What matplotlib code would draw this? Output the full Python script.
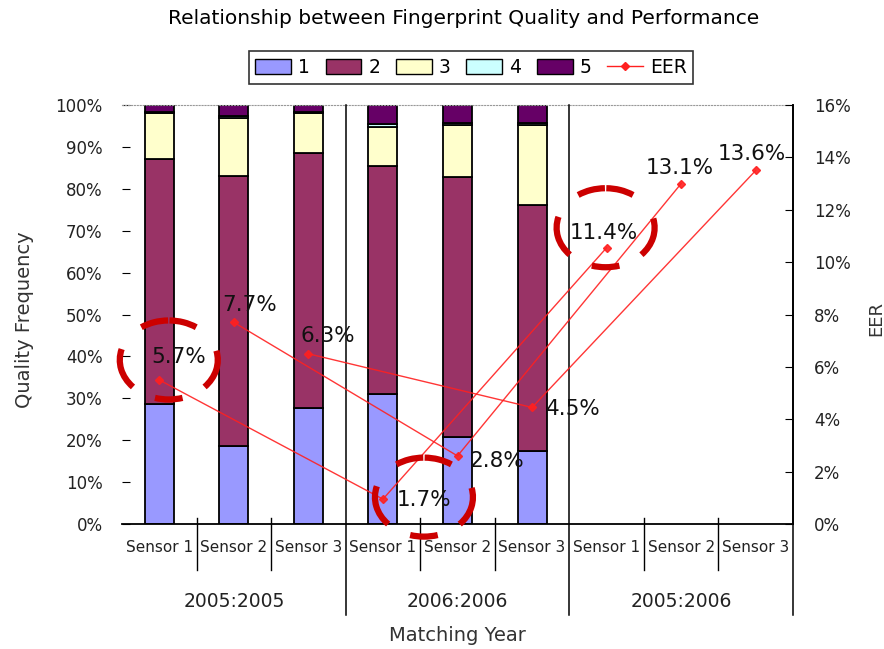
import numpy as np
import matplotlib
matplotlib.use('Agg')
import matplotlib.pyplot as plt
import matplotlib.transforms as mtransforms
from matplotlib.patches import Patch, Arc
from matplotlib.lines import Line2D

# quality share per bar (percent), stacked 1..5
sensors = ['Sensor 1', 'Sensor 2', 'Sensor 3'] * 3
groups = ['2005:2005', '2006:2006', '2005:2006']
q1 = [28.6, 18.6, 27.7, 31.0, 20.8, 17.5]
q2 = [58.5, 64.5, 60.8, 54.4, 62.0, 58.6]
q3 = [11.0, 13.9, 9.6, 9.4, 12.4, 19.1]
q4 = [0.3, 0.4, 0.3, 0.6, 0.4, 0.5]
q5 = [1.6, 2.6, 1.6, 4.6, 4.4, 4.3]

# EER marker heights as drawn, and the printed labels
eer = [5.5, 7.7, 6.5, 0.95, 2.6, 4.45, 10.55, 13.0, 13.5]
eer_labels = ['5.7%', '7.7%', '6.3%', '1.7%', '2.8%', '4.5%', '11.4%', '13.1%', '13.6%']
# one line per sensor across the three matching years
eer_series = [[0, 3, 6], [1, 4, 7], [2, 5, 8]]

colors = ['#9999FF', '#993366', '#FFFFCC', '#CCFFFF', '#660066']

fig = plt.figure(figsize=(8.84, 6.49), dpi=100)
ax = fig.add_axes([122/884, 1-524/649, 671/884, 419/649])
ax2 = ax.twinx()

x = np.arange(len(q1))
bottom = np.zeros(len(q1))
for vals, c in zip([q1, q2, q3, q4, q5], colors):
    ax.bar(x, vals, 0.39, bottom=bottom, color=c, edgecolor='black', lw=1.3, zorder=2)
    bottom += np.array(vals)

ax.set_xlim(-0.5, 8.5)
ax.set_ylim(0, 100)
ax.set_yticks(np.arange(0, 101, 10))
ax.set_yticklabels(['%d%%' % v for v in range(0, 101, 10)], fontsize=12, color='#222222')
ax.tick_params(axis='y', direction='in', length=6, pad=14)
ax.set_xticks([])
for s in ['left', 'right']:
    ax.spines[s].set_visible(False)
ax.spines['top'].set_color('#999999')
ax.spines['top'].set_linestyle(':')
ax.spines['bottom'].set_linewidth(1.3)

ax2.set_ylim(0, 16)
ax2.set_yticks(np.arange(0, 17, 2))
ax2.set_yticklabels(['%d%%' % v for v in range(0, 17, 2)], fontsize=12, color='#222222')
ax2.tick_params(axis='y', direction='in', length=6, pad=15)
for s in ['left', 'top', 'bottom']:
    ax2.spines[s].set_visible(False)
ax2.spines['right'].set_linewidth(1.3)

# category axis decorations
tb = ax.get_xaxis_transform()
for xs in [0.5, 1.5, 3.5, 4.5, 6.5, 7.5]:
    ax.plot([xs, xs], [0.014, -0.11], color='black', lw=1, transform=tb, clip_on=False)
for xs in [2.5, 5.5, 8.5]:
    ax.plot([xs, xs], [1, -0.217], color='black', lw=1.1, transform=tb, clip_on=False, zorder=3)
for i, s in enumerate(sensors):
    ax.text(i, -0.057, s, transform=tb, ha='center', va='center', fontsize=11, color='#222222')
for i, g in enumerate(groups):
    ax.text(3*i + 1, -0.184, g, transform=tb, ha='center', va='center', fontsize=13.5, color='#222222')
ax.text(0.5, -0.265, 'Matching Year', transform=ax.transAxes, ha='center', va='center',
        fontsize=14, color='#333333')

fig.text(25/884, 1-320/649, 'Quality Frequency', rotation=90, ha='center', va='center',
         fontsize=14, color='#333333')
fig.text(876/884, 1-318/649, 'EER', rotation=90, ha='center', va='center', fontsize=13, color='#333333')
fig.text(464/884, 1-18/649, 'Relationship between Fingerprint Quality and Performance',
         ha='center', va='center', fontsize=14.5, color='black')

# EER lines
xe = np.arange(len(eer))
for idx in eer_series:
    ax2.plot(xe[idx], np.array(eer)[idx], color='#FF2020', lw=1, marker='D', ms=4.5,
             alpha=0.9, zorder=4)

offsets = [(-8, 23), (-12, 17), (-8, 18), (14, -1), (12, -5), (14, -2),
           (-37, 15), (-35, 16), (-38, 16)]
for xi, yi, lab, off in zip(xe, eer, eer_labels, offsets):
    ax2.annotate(lab, (xi, yi), xytext=off, textcoords='offset pixels', ha='left', va='center',
                 fontsize=15.5, color='#111111', annotation_clip=False, zorder=5)

# dashed highlight ellipses around three labels
pix = mtransforms.Affine2D().scale(1/100) + fig.dpi_scale_trans
circles = [(0, (9.5, 20)), (3, (41, 2)), (6, (-1, 20))]
segs = [(50, 89), (91, 130), (167, 217), (-37, 11), (250, 290)]
for i, (dx, dy) in circles:
    tr = pix + mtransforms.ScaledTranslation(xe[i], eer[i], ax2.transData)
    for t1, t2 in segs:
        a = Arc((dx, dy), 98, 79, theta1=t1, theta2=t2, color='#CC0000', lw=4.5,
                transform=tr, clip_on=False, zorder=6)
        ax2.add_artist(a)

handles = [Patch(facecolor=c, edgecolor='black', lw=1) for c in colors]
handles.append(Line2D([], [], color='#FF2020', lw=1, marker='D', ms=4.5))
leg = fig.legend(handles, ['1', '2', '3', '4', '5', 'EER'], loc='center',
                 bbox_to_anchor=(471/884, 1-67.5/649), ncol=6, fontsize=13.5,
                 frameon=True, fancybox=False, edgecolor='black', handlelength=1.9,
                 handleheight=0.8, handletextpad=0.37, columnspacing=0.85,
                 borderpad=0.35)
leg.get_frame().set_linewidth(1.2)

fig.savefig('out.png', dpi=100)
